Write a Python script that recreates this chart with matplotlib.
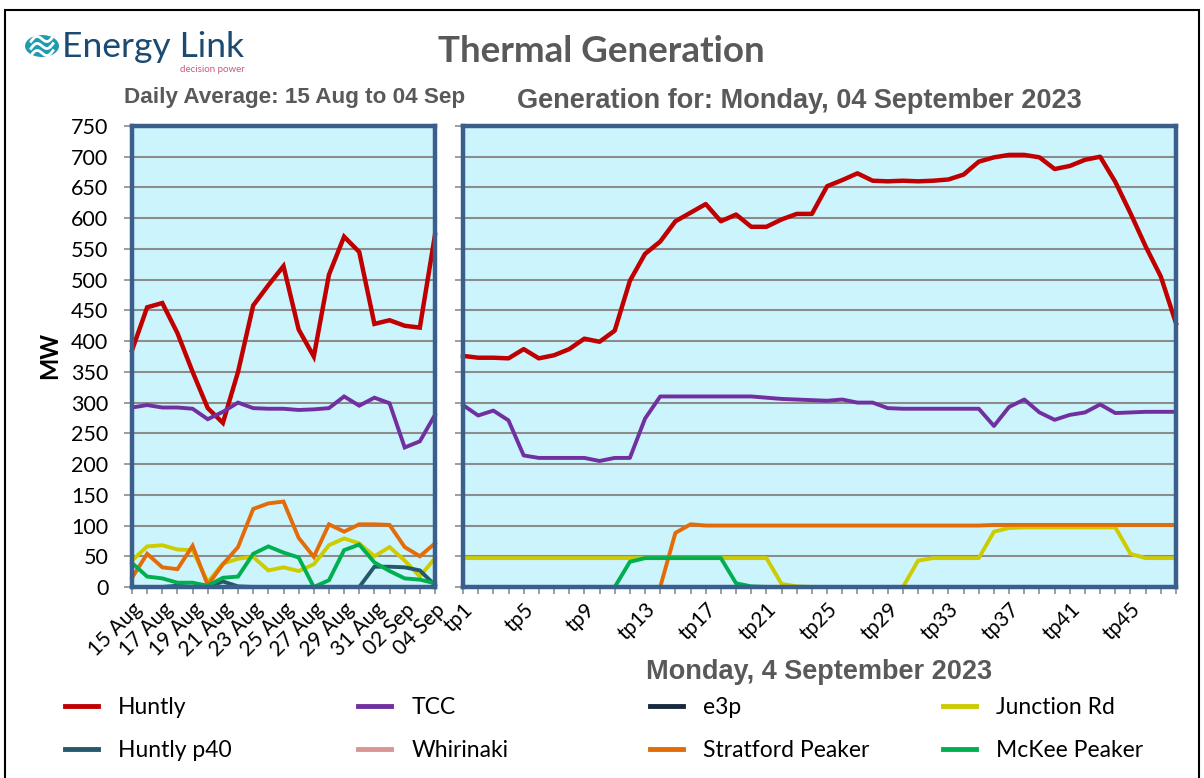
# plot.py
# Thermal generation chart: daily averages (left) and trading periods for one day (right)

import numpy as np
from matplotlib import pyplot as plt
from matplotlib.patches import Circle, Rectangle
from matplotlib.lines import Line2D

# Data --------------------------------------------

day_labels = ['15 Aug', '16 Aug', '17 Aug', '18 Aug', '19 Aug', '20 Aug', '21 Aug',
              '22 Aug', '23 Aug', '24 Aug', '25 Aug', '26 Aug', '27 Aug', '28 Aug',
              '29 Aug', '30 Aug', '31 Aug', '01 Sep', '02 Sep', '03 Sep', '04 Sep']
tp_labels = ['tp' + str(i) for i in range(1, 49)]

series_names = ['Huntly', 'TCC', 'e3p', 'Junction Rd',
                'Huntly p40', 'Whirinaki', 'Stratford Peaker', 'McKee Peaker']
series_colors = ['#C00000', '#7030A0', '#17293F', '#CCCC00',
                 '#25596A', '#D99694', '#E36C09', '#00B050']

# daily averages, 15 Aug to 04 Sep
huntly_daily = [385, 455, 462, 413, 350, 291, 267, 350, 458, 491, 522,
                419, 375, 508, 570, 545, 428, 434, 425, 422, 573]
tcc_daily = [292, 296, 292, 292, 290, 273, 285, 300, 291, 290, 290,
             288, 289, 291, 310, 295, 308, 299, 227, 237, 280]
e3p_daily = [0, 0, 0, 0, 0, 0, 0, 0, 0, 0, 0,
             0, 0, 0, 0, 0, 0, 0, 0, 0, 0]
junction_daily = [43, 66, 68, 61, 60, 8, 38, 46, 49, 27, 32,
                  26, 37, 68, 79, 71, 50, 65, 43, 17, 47]
p40_daily = [0, 0, 0, 2, 0, 0, 9, 1, 0, 0, 0,
             0, 0, 0, 0, 0, 33, 33, 32, 27, 3]
whirinaki_daily = [0, 0, 0, 0, 0, 0, 0, 0, 0, 0, 0,
                   0, 0, 0, 0, 0, 0, 0, 0, 0, 0]
stratford_daily = [15, 54, 32, 29, 67, 3, 37, 65, 127, 136, 139,
                   80, 49, 102, 90, 102, 102, 101, 65, 50, 71]
mckee_daily = [39, 17, 14, 7, 7, 2, 15, 17, 54, 66, 56,
               48, 0, 11, 60, 69, 40, 26, 14, 12, 6]

# trading periods, Monday 04 Sep 2023
huntly_tp = [376, 373, 373, 372, 387, 372, 377, 387, 404, 399, 417, 498,
             542, 562, 595, 609, 623, 595, 606, 586, 586, 598, 607, 607,
             652, 662, 673, 661, 660, 661, 660, 661, 663, 671, 692, 699,
             703, 703, 699, 680, 685, 695, 700, 659, 608, 554, 505, 429]
tcc_tp = [296, 279, 287, 271, 214, 210, 210, 210, 210, 205, 210, 210,
          274, 310, 310, 310, 310, 310, 310, 310, 308, 306, 305, 304,
          303, 305, 300, 300, 291, 290, 290, 290, 290, 290, 290, 262,
          293, 305, 284, 272, 280, 284, 297, 283, 284, 285, 285, 285]
e3p_tp = [0, 0, 0, 0, 0, 0, 0, 0, 0, 0, 0, 0,
          0, 0, 0, 0, 0, 0, 0, 0, 0, 0, 0, 0,
          0, 0, 0, 0, 0, 0, 0, 0, 0, 0, 0, 0,
          0, 0, 0, 0, 0, 0, 0, 0, 0, 0, 0, 0]
junction_tp = [47, 47, 47, 47, 47, 47, 47, 47, 47, 47, 47, 47,
               47, 47, 47, 47, 47, 47, 47, 47, 47, 5, 1, 0,
               0, 0, 0, 0, 0, 0, 43, 47, 47, 47, 47, 90,
               96, 97, 97, 97, 97, 97, 97, 97, 54, 47, 47, 47]
p40_tp = [0, 0, 0, 0, 0, 0, 0, 0, 0, 0, 0, 0,
          0, 0, 0, 0, 0, 0, 0, 0, 0, 0, 0, 0,
          0, 0, 0, 0, 0, 0, 0, 0, 0, 0, 0, 0,
          0, 0, 0, 0, 0, 0, 0, 0, 0, 0, 0, 0]
whirinaki_tp = [0, 0, 0, 0, 0, 0, 0, 0, 0, 0, 0, 0,
                0, 0, 0, 0, 0, 0, 0, 0, 0, 0, 0, 0,
                0, 0, 0, 0, 0, 0, 0, 0, 0, 0, 0, 0,
                0, 0, 0, 0, 0, 0, 0, 0, 0, 0, 0, 0]
stratford_tp = [0, 0, 0, 0, 0, 0, 0, 0, 0, 0, 0, 0,
                0, 0, 88, 102, 100, 100, 100, 100, 100, 100, 100, 100,
                100, 100, 100, 100, 100, 100, 100, 100, 100, 100, 100, 101,
                101, 101, 101, 101, 101, 101, 101, 101, 101, 101, 101, 101]
mckee_tp = [0, 0, 0, 0, 0, 0, 0, 0, 0, 0, 0, 41,
            47, 47, 47, 47, 47, 47, 6, 1, 0, 0, 0, 0,
            0, 0, 0, 0, 0, 0, 0, 0, 0, 0, 0, 0,
            0, 0, 0, 0, 0, 0, 0, 0, 0, 0, 0, 0]

daily = [huntly_daily, tcc_daily, e3p_daily, junction_daily,
         p40_daily, whirinaki_daily, stratford_daily, mckee_daily]
periods = [huntly_tp, tcc_tp, e3p_tp, junction_tp,
           p40_tp, whirinaki_tp, stratford_tp, mckee_tp]

# Presets --------------------------------------------

W, H = 1204, 778
plt.rcParams['font.family'] = ['Lato', 'DejaVu Sans']
greyText = '#595959'
panelBg = '#CCF4FC'
borderCol = '#3B5F8C'
gridCol = '#8C8C8C'

def fx(px):
    return px / W

def fy(py):
    return 1 - py / H

def styleAxes(ax, npts):
    ax.set_facecolor(panelBg)
    ax.set_ylim(0, 750)
    ax.set_yticks(np.arange(0, 751, 50))
    ax.set_xlim(0, npts - 1)
    ax.grid(axis='y', color=gridCol, linewidth=1.5)
    ax.set_axisbelow(True)
    for s in ax.spines.values():
        s.set_color(borderCol)
        s.set_linewidth(3.2)
        s.set_zorder(5)
    ax.tick_params(axis='y', length=6, width=1.2, color=gridCol, labelsize=15.5, pad=11)
    ax.tick_params(axis='x', which='both', length=5, width=1.2, color=gridCol,
                   labelsize=15, pad=4)

# Figure --------------------------------------------

fig = plt.figure(figsize=(W / 100, H / 100), dpi=100)

# outer frame
fig.add_artist(Rectangle((fx(5), fy(790)), fx(1194), fy(10) - fy(790),
                         transform=fig.transFigure, fill=False,
                         edgecolor='black', linewidth=1.5))

axL = fig.add_axes([fx(132), fy(587), fx(435 - 132), fy(126) - fy(587)])
axR = fig.add_axes([fx(463), fy(587), fx(1176 - 463), fy(126) - fy(587)])

xd = np.arange(len(day_labels))
xt = np.arange(len(tp_labels))
for vals, name, col in zip(daily, series_names, series_colors):
    lw = 3.2 if name == 'Huntly' else 2.8
    axL.plot(xd, vals, color=col, linewidth=lw, solid_joinstyle='miter', clip_on=False)
for vals, name, col in zip(periods, series_names, series_colors):
    lw = 3.2 if name == 'Huntly' else 2.8
    axR.plot(xt, vals, color=col, linewidth=lw, clip_on=False)

styleAxes(axL, len(day_labels))
styleAxes(axR, len(tp_labels))

axL.set_xticks(xd, minor=True)
axL.set_xticks(xd[::2])
axL.set_xticklabels(day_labels[::2], rotation=45, ha='right', va='top',
                    rotation_mode='anchor')
axR.set_xticks(xt, minor=True)
axR.set_xticks(xt[::4])
axR.set_xticklabels(tp_labels[::4], rotation=45, ha='right', va='top',
                    rotation_mode='anchor')
axR.set_yticklabels([])

fig.text(fx(50), fy(355), 'MW', fontsize=17, fontweight='bold', rotation=90,
         ha='center', va='center')

# Titles --------------------------------------------

fig.text(fx(601), fy(51), 'Thermal Generation', fontsize=26.5, fontweight='bold',
         color=greyText, ha='center', va='center')
fig.text(fx(124), fy(98), 'Daily Average: 15 Aug to 04 Sep', fontsize=16.2,
         fontweight='bold', color=greyText, ha='left', va='center',
         family='Liberation Sans')
fig.text(fx(799), fy(101), 'Generation for: Monday, 04 September 2023', fontsize=19.5,
         fontweight='bold', color=greyText, ha='center', va='center',
         family='Liberation Sans')
fig.text(fx(819), fy(672), 'Monday, 4 September 2023', fontsize=19.5,
         fontweight='bold', color=greyText, ha='center', va='center',
         family='Liberation Sans')

# Logo --------------------------------------------

fig.add_artist(Circle((fx(42), fy(46)), fx(17), transform=fig.transFigure,
                      facecolor='#1F9BB0', edgecolor='none'))
for k in range(3):
    t = np.linspace(-1, 1, 30)
    wx = 42 + 11 * t
    wy = 46 + (k - 1) * 7 + 4 * np.sin(t * 3.0) - 3 * t
    fig.add_artist(Line2D(fx(wx), fy(wy), transform=fig.transFigure,
                          color='white', linewidth=2))
fig.text(fx(62), fy(47), 'Energy Link', fontsize=25.5, color='#1B4B72',
         ha='left', va='center')
fig.text(fx(245), fy(70), 'decision power', fontsize=7, color='#D0587A',
         ha='right', va='center')

# Legend --------------------------------------------

handles = [Line2D([], [], color=c, linewidth=3.5) for c in series_colors]
colX = [65, 358, 650, 943]
for j in range(4):
    fig.legend([handles[j], handles[j + 4]], [series_names[j], series_names[j + 4]],
               loc='upper left', bbox_to_anchor=(fx(colX[j]), fy(697)),
               frameon=False, fontsize=16.5, handlelength=1.45, handletextpad=0.87,
               labelspacing=0.95, borderpad=0, borderaxespad=0)

plt.savefig('out.png', dpi=100)
